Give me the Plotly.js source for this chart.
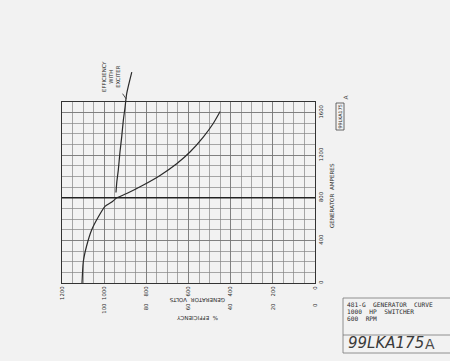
<!DOCTYPE html>
<html>
<head>
<meta charset="utf-8">
<script src="https://cdn.plot.ly/plotly-3.0.1.min.js"></script>
<style>html,body{margin:0;padding:0;background:#f2f2f2;}#chart{width:450px;height:361px;}</style>
</head>
<body>
<div id="chart"></div>
<script>
// Generator volts vs generator amperes
const ampsVolts = [0, 200, 350, 500, 620, 720, 760, 800, 840, 920, 1010, 1120, 1230, 1370, 1500, 1610];
const volts = [1105, 1099, 1083, 1059, 1028, 996, 964, 940, 893, 814, 735, 656, 593, 530, 482, 450];
// Efficiency with exciter (%) vs generator amperes
const ampsEff = [850, 950, 1060, 1230, 1370, 1530, 1650, 1780, 1980];
const efficiency = [94.4, 94.0, 93.3, 92.5, 91.7, 90.9, 90.1, 89.3, 86.9];
// Tick labels
const voltTicks = [0, 200, 400, 600, 800, 1000, 1200];
const effTicks = [0, 20, 40, 60, 80, 100];
const ampTicks = [0, 400, 800, 1200, 1600];
const heavyLineAmps = 800;
const titleLines = ["481-G  GENERATOR  CURVE", "1000  HP  SWITCHER", "600  RPM"];
const drawingNo = "99LKA175";
const revision = "A";

const W = 450, H = 361;
const px = v => v / W;
const py = v => (H - v) / H;
const xDom = [px(62), px(315)];
const yDom = [py(283), py(102)];
const yDom2 = [py(283), py(55)];
const ampMax = 1700;
const ampMax2 = ampMax * (yDom2[1] - yDom2[0]) / (yDom[1] - yDom[0]);

const ink = '#2a2a2a';
const font = 'DejaVu Sans, Liberation Sans, sans-serif';
const mono = 'DejaVu Sans Mono, Liberation Mono, monospace';

const traces = [
  {x: volts, y: ampsVolts, type: 'scatter', mode: 'lines', xaxis: 'x', yaxis: 'y',
   line: {color: ink, width: 1.2, shape: 'spline', smoothing: 0.6}, hoverinfo: 'skip'},
  {x: efficiency, y: ampsEff, type: 'scatter', mode: 'lines', xaxis: 'x3', yaxis: 'y2',
   line: {color: ink, width: 1.2, shape: 'spline', smoothing: 0.6}, hoverinfo: 'skip'}
];

function ann(x, y, text, angle, size, extra) {
  return Object.assign({xref: 'paper', yref: 'paper', x: px(x), y: py(y), text: text,
    showarrow: false, textangle: angle, xanchor: 'center', yanchor: 'middle',
    font: {family: font, size: size, color: ink}}, extra || {});
}

const layout = {
  width: W, height: H,
  margin: {l: 0, r: 0, t: 0, b: 0, pad: 0},
  paper_bgcolor: '#f2f2f2',
  plot_bgcolor: 'rgba(0,0,0,0)',
  showlegend: false,
  font: {family: font, color: ink, size: 6},
  xaxis: {
    domain: xDom, range: [1200, 0], tickmode: 'array', tickvals: voltTicks,
    tickangle: -90, tickfont: {size: 5.3, color: ink},
    showgrid: true, gridcolor: '#777', gridwidth: 0.8,
    minor: {dtick: 50, tick0: 0, showgrid: true, gridcolor: '#858585', gridwidth: 0.7},
    showline: true, mirror: true, linecolor: '#333', linewidth: 1.3,
    zeroline: false, ticks: '', anchor: 'y'
  },
  yaxis: {
    domain: yDom, range: [0, ampMax], tickmode: 'array', tickvals: ampTicks,
    side: 'right', tickangle: -90, tickfont: {size: 5.3, color: ink},
    showgrid: true, gridcolor: '#777', gridwidth: 0.8,
    minor: {dtick: 100, tick0: 0, showgrid: true, gridcolor: '#858585', gridwidth: 0.7},
    showline: true, mirror: true, linecolor: '#333', linewidth: 1.3,
    zeroline: false, ticks: '', anchor: 'x'
  },
  xaxis3: {
    overlaying: 'x', anchor: 'free', position: py(301.5), range: [120, 0],
    tickmode: 'array', tickvals: effTicks, tickangle: -90,
    tickfont: {size: 5.3, color: ink}, showgrid: false, showline: false,
    zeroline: false, ticks: ''
  },
  yaxis2: {
    domain: yDom2, range: [0, ampMax2], visible: false, anchor: 'x3'
  },
  shapes: [
    {type: 'line', xref: 'x domain', yref: 'y', x0: 0, x1: 1, y0: heavyLineAmps, y1: heavyLineAmps,
     line: {color: '#222', width: 1.6}},
    {type: 'rect', xref: 'paper', yref: 'paper', x0: px(343), x1: px(452), y0: py(353), y1: py(298),
     line: {color: '#777', width: 0.8}},
    {type: 'line', xref: 'paper', yref: 'paper', x0: px(343), x1: px(452), y0: py(335), y1: py(335),
     line: {color: '#777', width: 0.8}},
    {type: 'rect', xref: 'paper', yref: 'paper', x0: px(336), x1: px(344), y0: py(130), y1: py(103),
     line: {color: '#444', width: 0.8}}
  ],
  annotations: [
    ann(197, 300, 'GENERATOR  VOLTS', 180, 5.6),
    ann(197, 318, '%  EFFICIENCY', 180, 5.6),
    ann(332, 196, 'GENERATOR  AMPERES', -90, 5.6),
    {xref: 'x3', yref: 'y2', x: 89.6, y: 1730, text: 'EFFICIENCY<br>WITH<br>EXCITER',
     showarrow: true, arrowhead: 0, arrowwidth: 0.8, arrowcolor: ink, ax: -15, ay: -22,
     textangle: -90, font: {family: font, size: 5.3, color: ink}},
    ann(340, 116.5, drawingNo, -90, 4.8),
    ann(344.5, 97, revision, -90, 6, {font: {family: font, size: 6, color: '#555'}}),
    ann(345, 304, titleLines[0], 0, 6.2, {xanchor: 'left', font: {family: mono, size: 6.2, color: ink}}),
    ann(345, 311, titleLines[1], 0, 6.2, {xanchor: 'left', font: {family: mono, size: 6.2, color: ink}}),
    ann(345, 318, titleLines[2], 0, 6.2, {xanchor: 'left', font: {family: mono, size: 6.2, color: ink}}),
    ann(346, 343, drawingNo, 0, 15,
      {xanchor: 'left', font: {family: 'DejaVu Sans ExtraLight, DejaVu Sans, sans-serif', size: 15, color: '#3a3a3a', style: 'italic'}}),
    ann(423, 344, revision, 0, 14,
      {xanchor: 'left', font: {family: 'DejaVu Sans ExtraLight, DejaVu Sans, sans-serif', size: 14, color: '#4a4a4a'}})
  ]
};

Plotly.newPlot('chart', traces, layout, {staticPlot: true, displayModeBar: false});
</script>
</body>
</html>
